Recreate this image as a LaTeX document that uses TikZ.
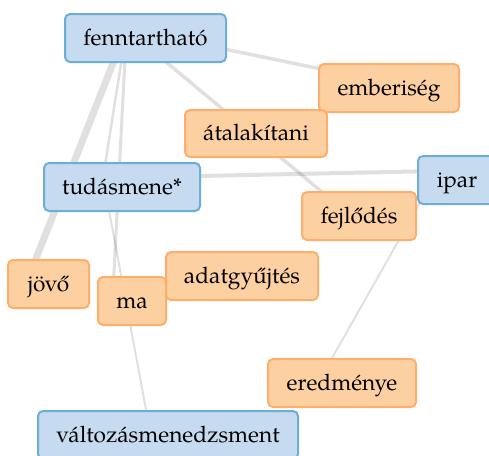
\documentclass[tikz,border=0pt]{standalone}
\usepackage{fontspec}
\setmainfont{TeX Gyre Pagella}
\usetikzlibrary{calc}
\pgfdeclarelayer{bg}
\pgfsetlayers{bg,main}
\definecolor{bfill}{HTML}{C6DBEF}
\definecolor{bline}{HTML}{6BAED6}
\definecolor{ofill}{HTML}{FDD0A2}
\definecolor{oline}{HTML}{FDAE6B}
\tikzset{
  box/.style={rounded corners=5pt, line width=2pt, minimum height=48pt, inner sep=0pt,
    text height=14.5pt, text depth=0pt, font=\fontsize{22.7}{26}\selectfont},
  bluebox/.style={box, fill=bfill, draw=bline},
  orangebox/.style={box, fill=ofill, draw=oline},
  link/.style={draw=black, draw opacity=0.12, line cap=butt}
}
\begin{document}
\begin{tikzpicture}[x=1pt,y=-1pt]
\useasboundingbox (0,0) rectangle (489,455);
\node[bluebox, minimum width=161pt] (fenn) at (145.5,38) {fenntartható};
\node[orangebox, minimum width=140pt] (emb) at (389,88) {emberiség};
\node[orangebox, minimum width=142pt, minimum height=47pt] (atal) at (256,133.5) {átalakítani};
\node[bluebox, minimum width=156pt] (tud) at (122,187) {tudásmene*};
\node[bluebox, minimum width=78pt] (ipar) at (457,180) {ipar};
\node[orangebox, minimum width=114pt] (fejl) at (359,216) {fejlődés};
\node[orangebox, minimum width=81pt] (jovo) at (48.5,284) {jövő};
\node[orangebox, minimum width=152pt] (adat) at (242,276) {adatgyűjtés};
\node[orangebox, minimum width=68pt] (ma) at (132,301) {ma};
\node[orangebox, minimum width=148pt] (ered) at (342,383) {eredménye};
\node[bluebox, minimum width=260pt] (valt) at (168,435) {változásmenedzsment};
\begin{pgfonlayer}{bg}
\draw[link, line width=7pt] ($(fenn)+(-19,-9)$) -- ($(jovo)+(-19,-9)$);
\draw[link, line width=3.5pt] ($(fenn)+(-19,-9)$) -- ($(emb)+(-19,-9)$);
\draw[link, line width=3.5pt] ($(fenn)+(-19,-9)$) -- ($(fejl)+(-19,-9)$);
\draw[link, line width=4pt] ($(tud)+(-19,-9)$) -- ($(ipar)+(-19,-9)$);
\draw[link, line width=2.5pt] ($(fenn)+(-19,-9)$) -- ($(tud)+(-19,-9)$);
\draw[link, line width=3pt] ($(fenn)+(-19,-9)$) -- ($(ma)+(-19,-9)$);
\draw[link, line width=2pt] ($(tud)+(-19,-9)$) -- ($(valt)+(-19,-9)$);
\draw[link, line width=2pt] ($(ipar)+(-19,-9)$) -- ($(ered)+(-19,-9)$);
\end{pgfonlayer}
\end{tikzpicture}
\end{document}
